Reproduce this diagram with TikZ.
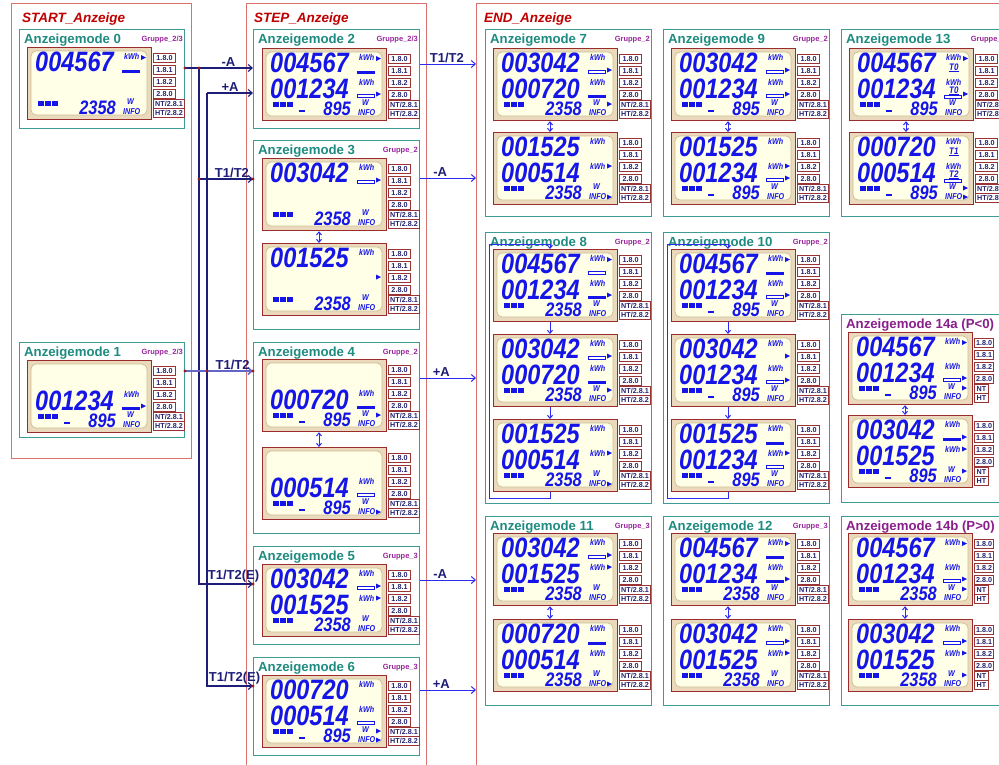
\documentclass[tikz,border=0pt]{standalone}
\usepackage{fontspec}
\setmainfont{Liberation Sans}
\newfontfamily\lcdfont[FakeStretch=0.84]{Liberation Sans}
\usetikzlibrary{arrows.meta, calc, positioning}

\definecolor{grpred}{HTML}{D9726F}
\definecolor{grptext}{HTML}{C00000}
\definecolor{modeteal}{HTML}{3E9C95}
\definecolor{titleteal}{HTML}{1E8B80}
\definecolor{grppurple}{HTML}{98259B}
\definecolor{titlepurple}{HTML}{8A1E8A}
\definecolor{lcdred}{HTML}{9A2C2C}
\definecolor{lcdtan}{HTML}{EBD9BD}
\definecolor{lcdcream}{HTML}{FFFEE6}
\definecolor{glassline}{HTML}{C9BE92}
\definecolor{lcdblue}{HTML}{1515E8}
\definecolor{tagred}{HTML}{9A3434}
\definecolor{tagtext}{HTML}{22226E}
\definecolor{busnavy}{HTML}{1E1E78}
\definecolor{busnavyb}{HTML}{6565C8}
\definecolor{endblue}{HTML}{2B2BF2}
\definecolor{dotred}{HTML}{9A1A1A}

% display marks inside a panel (local coordinates)
\newcommand{\lcdptr}[1]{\fill[lcdblue] (114,#1-2.5) -- (119,#1) -- (114,#1+2.5) -- cycle;}
\newcommand{\lcdfbar}[1]{\fill[lcdblue] (95,#1) rectangle (113,#1+3);}
\newcommand{\lcdobar}[1]{\draw[lcdblue, line width=0.9pt, fill=white] (95.5,#1) rectangle (112.5,#1+3);}
\newcommand{\lcdtarif}[2]{\node[lcdunit, font=\lcdfont\bfseries\itshape\fontsize{9.5}{10}\selectfont] at (100,#2) {\underline{#1}};}

\newif\ifshorttags

% panel: name, x, y, line 1, line 2, value, minus, marks
\newcommand{\lcd}[8]{%
  \begin{scope}[shift={(#2,#3)}]
    \node[lcdframe] (#1) at (0,0) {};
    \draw[lcdglass] (4,4) rectangle (120,68);
    \if\relax\detokenize{#4}\relax\else
      \node[lcddigits] (#1-l1) at (8,24) {#4};
      \node[lcdunit] (#1-u1) at (97,12) {kWh};
    \fi
    \if\relax\detokenize{#5}\relax\else
      \node[lcddigits] (#1-l2) at (8,50) {#5};
      \node[lcdunit] (#1-u2) at (97,37) {kWh};
    \fi
    \foreach \sx in {11,18,25} \fill[lcdblue] (\sx,54) rectangle ++(5.5,5);
    \ifnum#7=1 \fill[lcdblue] (37,61.5) rectangle (43,64);\fi
    \node[lcdvalue] (#1-v) at (89,67) {#6};
    \node[lcdunit] (#1-w) at (100,57) {W};
    \node[lcdunit] (#1-i) at (96,67.5) {INFO};
    #8
    \ifshorttags
      \node[tagbox, minimum width=19pt] (#1-a) at (126,6) {1.8.0};
      \node[tagbox, minimum width=19pt] (#1-b) at (126,18) {1.8.1};
      \node[tagbox, minimum width=19pt] (#1-c) at (126,30) {1.8.2};
      \node[tagbox, minimum width=19pt] (#1-d) at (126,42) {2.8.0};
      \node[tagbox, minimum width=14pt] (#1-e) at (126,52) {NT};
      \node[tagbox, minimum width=14pt] (#1-f) at (126,61) {HT};
    \else
      \node[tagbox, minimum width=22pt] (#1-a) at (126,6) {1.8.0};
      \node[tagbox, minimum width=22pt] (#1-b) at (126,18) {1.8.1};
      \node[tagbox, minimum width=22pt] (#1-c) at (126,30) {1.8.2};
      \node[tagbox, minimum width=22pt] (#1-d) at (126,42) {2.8.0};
      \node[tagbox, minimum width=31pt] (#1-e) at (126,52) {NT/2.8.1};
      \node[tagbox, minimum width=31pt] (#1-f) at (126,61) {HT/2.8.2};
    \fi
  \end{scope}}

% mode frame: name, x, y, width, height, title, group
\newcommand{\modebox}[7]{%
  \node[modebox, minimum width=#4pt, minimum height=#5pt] (#1) at (#2,#3) {};
  \node[modetitle] (#1-title) at ($(#1.north west)+(5,14)$) {#6};
  \node[gruppe] (#1-grp) at ($(#1.north east)+(-2,12)$) {#7};}

\begin{document}
\begin{tikzpicture}[x=1pt, y=-1pt,
    grpbox/.style={draw=grpred, line width=1.2pt, anchor=north west, inner sep=0},
    grptitle/.style={anchor=base west, inner sep=0, text=grptext, font=\bfseries\itshape\fontsize{13.5}{15}\selectfont},
    modebox/.style={draw=modeteal, line width=1pt, fill=white, anchor=north west, inner sep=0},
    modetitle/.style={anchor=base west, inner sep=0, text=titleteal, font=\bfseries\fontsize{13.2}{15}\selectfont},
    gruppe/.style={anchor=base east, inner sep=0, text=grppurple, font=\bfseries\fontsize{7.5}{8}\selectfont},
    lcdframe/.style={draw=lcdred, fill=lcdtan, line width=1.2pt, anchor=north west, inner sep=0, minimum width=124pt, minimum height=72pt},
    lcdglass/.style={draw=glassline, fill=lcdcream, line width=0.7pt, rounded corners=5pt},
    lcddigits/.style={anchor=base west, inner sep=0, text height=20pt, text depth=0pt, text=lcdblue, font=\lcdfont\bfseries\itshape\fontsize{28}{28}\selectfont},
    lcdvalue/.style={anchor=base east, inner sep=0, text height=14pt, text depth=0pt, text=lcdblue, font=\lcdfont\bfseries\itshape\fontsize{19.5}{20}\selectfont},
    lcdunit/.style={anchor=base west, inner sep=0, text height=6pt, text depth=0pt, text=lcdblue, font=\lcdfont\bfseries\itshape\fontsize{8.5}{9}\selectfont},
    tagbox/.style={draw=tagred, line width=1pt, fill=white, anchor=north west, inner sep=0.4pt, minimum height=8.6pt, text height=5.2pt, text depth=0pt, text=tagtext, font=\bfseries\fontsize{7.2}{8}\selectfont},
    bus/.style={draw=busnavy, line width=1.1pt},
    busb/.style={draw=busnavyb, line width=1.5pt},
    endline/.style={draw=endblue, line width=1pt},
    loopline/.style={draw=endblue, line width=1pt},
    tip/.style={-{Straight Barb[length=4pt,width=7pt]}},
    stip/.style={-{Straight Barb[length=3pt,width=5pt]}},
    dtip/.style={{Straight Barb[length=3pt,width=5pt]}-{Straight Barb[length=3pt,width=5pt]}},
    buslabel/.style={above, inner sep=0.8pt, text=busnavy, font=\bfseries\fontsize{13}{14}\selectfont}
  ]
  \useasboundingbox (0,0) rectangle (999,764);
  \clip (0,0) rectangle (999,764);

  % groups
  \node[grpbox, minimum width=180pt, minimum height=455pt] (startgrp) at (11,3) {};
  \node[grptitle] (startgrp-title) at (22,22) {START\_Anzeige};
  \node[grpbox, minimum width=180pt, minimum height=790pt] (stepgrp) at (246,3) {};
  \node[grptitle] (stepgrp-title) at (254,22) {STEP\_Anzeige};
  \node[grpbox, minimum width=560pt, minimum height=790pt] (endgrp) at (476,3) {};
  \node[grptitle] (endgrp-title) at (484,22) {END\_Anzeige};

  % START_Anzeige
  \modebox{m0}{19}{29}{165}{99}{Anzeigemode 0}{Gruppe\_2/3}
  \lcd{p0}{27}{47}{004567}{}{2358}{0}{\lcdptr{10.5}\lcdfbar{22.5}}
  \modebox{m1}{19}{342}{165}{95}{Anzeigemode 1}{Gruppe\_2/3}
  \lcd{p1}{27}{360}{}{001234}{895}{1}{\lcdfbar{46.5}\lcdptr{46}}

  % STEP_Anzeige
  \modebox{m2}{253}{29}{166}{99}{Anzeigemode 2}{Gruppe\_2/3}
  \lcd{p2}{262}{48}{004567}{001234}{895}{1}{\lcdptr{10.5}\lcdfbar{22.5}\lcdobar{46.5}\lcdptr{46}}
  \modebox{m3}{253}{140}{166}{189}{Anzeigemode 3}{Gruppe\_2}
  \lcd{p3a}{262}{158}{003042}{}{2358}{0}{\lcdobar{22.5}\lcdptr{22}}
  \lcd{p3b}{262}{243}{001525}{}{2358}{0}{\lcdptr{34}}
  \modebox{m4}{253}{342}{166}{191}{Anzeigemode 4}{Gruppe\_2}
  \lcd{p4a}{262}{359}{}{000720}{895}{1}{\lcdfbar{46.5}\lcdptr{56}}
  \lcd{p4b}{262}{447}{}{000514}{895}{1}{\lcdobar{46.5}\lcdptr{65}}
  \modebox{m5}{253}{546}{166}{98}{Anzeigemode 5}{Gruppe\_3}
  \lcd{p5}{262}{564}{003042}{001525}{2358}{0}{\lcdobar{22.5}\lcdptr{22}\lcdptr{34}}
  \modebox{m6}{253}{657}{166}{98}{Anzeigemode 6}{Gruppe\_3}
  \lcd{p6}{262}{675}{000720}{000514}{895}{1}{\lcdobar{46.5}\lcdptr{56}\lcdptr{65}}

  % END_Anzeige
  \modebox{m7}{485}{29}{166}{187}{Anzeigemode 7}{Gruppe\_2}
  \lcd{p7a}{493}{48}{003042}{000720}{2358}{0}{\lcdobar{22.5}\lcdptr{22}\lcdfbar{46.5}\lcdptr{56}}
  \lcd{p7b}{493}{132}{001525}{000514}{2358}{0}{\lcdptr{34}\lcdptr{65}}
  \modebox{m9}{663}{29}{166}{187}{Anzeigemode 9}{Gruppe\_2}
  \lcd{p9a}{671}{48}{003042}{001234}{895}{1}{\lcdobar{22.5}\lcdptr{22}\lcdobar{46.5}\lcdptr{46}}
  \lcd{p9b}{671}{132}{001525}{001234}{895}{1}{\lcdptr{34}\lcdobar{46.5}\lcdptr{46}}
  \modebox{m13}{841}{29}{166}{187}{Anzeigemode 13}{Gruppe\_3}
  \lcd{p13a}{849}{48}{004567}{001234}{895}{1}{\lcdptr{10.5}\lcdtarif{T0}{22}\lcdtarif{T0}{45}\lcdobar{47}\lcdptr{46}}
  \lcd{p13b}{849}{132}{000720}{000514}{895}{1}{\lcdtarif{T1}{22}\lcdtarif{T2}{45}\lcdobar{47}\lcdptr{56}\lcdptr{65}}

  \modebox{m8}{485}{232}{166}{271}{Anzeigemode 8}{Gruppe\_2}
  \lcd{p8a}{493}{249}{004567}{001234}{2358}{0}{\lcdptr{10.5}\lcdobar{22.5}\lcdfbar{46.5}\lcdptr{46}}
  \lcd{p8b}{493}{334}{003042}{000720}{2358}{0}{\lcdobar{22.5}\lcdptr{22}\lcdfbar{46.5}\lcdptr{56}}
  \lcd{p8c}{493}{419}{001525}{000514}{2358}{0}{\lcdptr{34}\lcdptr{65}}
  \modebox{m10}{663}{232}{166}{271}{Anzeigemode 10}{Gruppe\_2}
  \lcd{p10a}{671}{249}{004567}{001234}{895}{1}{\lcdptr{10.5}\lcdfbar{22.5}\lcdobar{46.5}\lcdptr{46}}
  \lcd{p10b}{671}{334}{003042}{001234}{895}{1}{\lcdptr{22}\lcdobar{46.5}\lcdptr{46}}
  \lcd{p10c}{671}{419}{001525}{001234}{895}{1}{\lcdfbar{22.5}\lcdptr{34}\lcdobar{46.5}}

  \shorttagstrue
  \modebox{m14a}{841}{314}{170}{188}{\color{titlepurple}Anzeigemode 14a (P<0)}{}
  \lcd{p14aa}{848}{332}{004567}{001234}{895}{1}{\lcdptr{10.5}\lcdobar{46.5}\lcdptr{46}\lcdptr{56}}
  \lcd{p14ab}{848}{415}{003042}{001525}{895}{1}{\lcdfbar{22.5}\lcdptr{22}\lcdptr{34}\lcdptr{56}}
  \shorttagsfalse

  \modebox{m11}{485}{516}{166}{189}{Anzeigemode 11}{Gruppe\_3}
  \lcd{p11a}{493}{533}{003042}{001525}{2358}{0}{\lcdobar{22.5}\lcdptr{22}\lcdptr{34}}
  \lcd{p11b}{493}{619}{000720}{000514}{2358}{0}{\lcdfbar{22.5}\lcdptr{65}}
  \modebox{m12}{663}{516}{166}{189}{Anzeigemode 12}{Gruppe\_3}
  \lcd{p12a}{671}{533}{004567}{001234}{2358}{0}{\lcdptr{10.5}\lcdfbar{22.5}\lcdfbar{46.5}\lcdptr{46}}
  \lcd{p12b}{671}{619}{003042}{001525}{2358}{0}{\lcdobar{22.5}\lcdptr{22}\lcdptr{34}}

  \shorttagstrue
  \modebox{m14b}{841}{516}{170}{189}{\color{titlepurple}Anzeigemode 14b (P>0)}{}
  \lcd{p14ba}{848}{533}{004567}{001234}{2358}{0}{\lcdptr{10.5}\lcdobar{46.5}\lcdptr{46}\lcdptr{56}}
  \lcd{p14bb}{848}{619}{003042}{001525}{2358}{0}{\lcdobar{22.5}\lcdptr{22}\lcdptr{34}\lcdptr{56}}
  \shorttagsfalse

  % panel steps inside a mode
  \foreach \pa/\pb in {p3a/p3b, p4a/p4b, p7a/p7b, p9a/p9b, p13a/p13b, p14aa/p14ab, p11a/p11b, p12a/p12b, p14ba/p14bb}
    \draw[loopline, dtip] ($(\pa.south west)+(57,0)$) -- ($(\pb.north west)+(57,0)$);
  \foreach \m in {8,10} {
    \draw[loopline, stip] ($(p\m a.south west)+(57,0)$) -- ($(p\m b.north west)+(57,0)$);
    \draw[loopline, stip] ($(p\m b.south west)+(57,0)$) -- ($(p\m c.north west)+(57,0)$);
    \draw[loopline, stip] ($(p\m c.south west)+(57,0)$) -- ++(0,6) -| ($(p\m a.north west)+(-4,-5)$)
      -- ($(p\m a.north west)+(57,-5)$) -- ($(p\m a.north west)+(57,0)$);
  }

  % START -> STEP
  \coordinate (ja) at (199,68);
  \coordinate (jb) at (207,93);
  \coordinate (jc) at (199,179);
  \coordinate (jd) at (207,371);
  \coordinate (je) at (199,584);
  \coordinate (jf) at (207,686);
  \draw[bus, tip] (m0.east |- ja) -- node[buslabel, pos=0.64] {-A} (m2.west |- ja);
  \draw[bus, tip] (jb) -- node[buslabel] {+A} (m2.west |- jb);
  \draw[bus, tip] (ja) |- node[buslabel, pos=0.82] {T1/T2(E)} (m5.west |- je);
  \draw[bus, tip] (jb) |- node[buslabel, pos=0.8] {T1/T2(E)} (m6.west |- jf);
  \draw[bus, tip] (jc) -- node[buslabel, pos=0.61] {T1/T2} (m3.west |- jc);
  \draw[busb, tip] (m1.east |- jd) -- node[buslabel, pos=0.7] {T1/T2} (m4.west |- jd);
  \fill[dotred] (m0.east |- ja) circle (1.7pt);
  \fill[dotred] (ja) circle (1.7pt);
  \fill[dotred] (jc) circle (1.7pt);
  \fill[dotred] (m3.west |- jc) circle (1.7pt);
  \fill[dotred] (m1.east |- jd) circle (1.7pt);
  \fill[dotred] (jd) circle (1.7pt);
  \fill[dotred] (m4.west |- jd) circle (1.7pt);
  \fill[dotred] (m5.west |- je) circle (1.7pt);
  \fill[dotred] (m6.west |- jf) circle (1.7pt);

  % STEP -> END
  \coordinate (r2) at (0,64);
  \coordinate (r3) at (0,178);
  \coordinate (r4) at (0,378);
  \coordinate (r5) at (0,580);
  \coordinate (r6) at (0,690);
  \draw[endline, tip] (m2.east |- r2) -- node[buslabel, pos=0.48] {T1/T2} (endgrp.west |- r2);
  \draw[endline, tip] (m3.east |- r3) -- node[buslabel, pos=0.36] {-A} (endgrp.west |- r3);
  \draw[endline, tip] (m4.east |- r4) -- node[buslabel, pos=0.38] {+A} (endgrp.west |- r4);
  \draw[endline, tip] (m5.east |- r5) -- node[buslabel, pos=0.36] {-A} (endgrp.west |- r5);
  \draw[endline, tip] (m6.east |- r6) -- node[buslabel, pos=0.38] {+A} (endgrp.west |- r6);
\end{tikzpicture}
\end{document}
